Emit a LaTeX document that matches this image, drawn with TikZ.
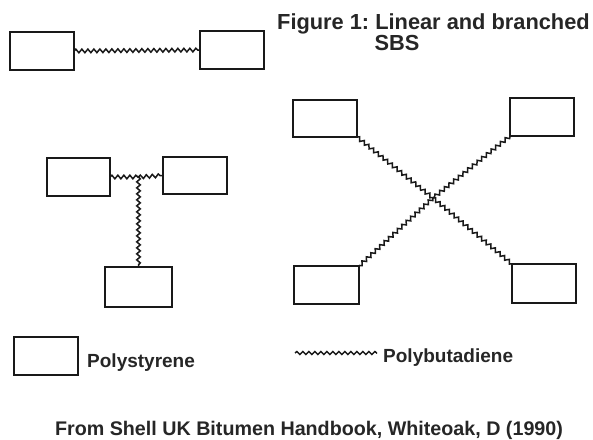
\documentclass[tikz,border=0pt]{standalone}
\usepackage{fontspec}
\setmainfont{Liberation Sans}
\usetikzlibrary{decorations.pathmorphing}
\frenchspacing
\begin{document}
\begin{tikzpicture}[x=1pt,y=-1pt,
  pbox/.style={draw=black!90, line width=1.8pt, minimum width=64pt, minimum height=38pt, inner sep=0pt, outer sep=0pt},
  chain/.style={draw=black!90, line width=1.5pt, decorate, decoration={snake, segment length=6pt, amplitude=1.8pt, pre length=0pt, post length=0pt}},
  lbl/.style={inner sep=0pt, text=black!85, font=\bfseries\fontsize{19}{22}\selectfont},
  src/.style={inner sep=0pt, text=black!85, font=\bfseries\fontsize{19.7}{22}\selectfont},
  ttl/.style={inner sep=0pt, text=black!85, font=\bfseries\fontsize{21.8}{26}\selectfont}]
\useasboundingbox (0,0) rectangle (593,439);
\fill[white] (0,0) rectangle (593,439);
% title
\node[ttl, anchor=base west] (title) at (277,29) {Figure 1: Linear and branched};
\node[ttl, anchor=base] (sbs) at (397,50) {SBS};
% linear
\node[pbox] (L1) at (42,51) {};
\node[pbox] (L2) at (232,50) {};
\draw[chain] (L1.east) -- (L2.west);
% T-shape
\node[pbox, minimum width=63pt] (T1) at (78.5,177) {};
\node[pbox, minimum height=37pt] (T2) at (195,175.5) {};
\node[pbox, minimum width=67pt, minimum height=40pt] (T3) at (138.5,287) {};
\coordinate (tj) at (138.5,177);
\draw[chain] (T1.east) -- (tj);
\draw[chain] (tj) -- (T2.west);
\draw[chain] (tj) -- (T3.north);
% X-shape
\node[pbox, minimum height=37pt] (X1) at (325,118.5) {};
\node[pbox] (X2) at (542,117) {};
\node[pbox, minimum width=65pt] (X3) at (326.5,285) {};
\node[pbox, minimum height=39pt] (X4) at (544,283.5) {};
\coordinate (xc) at (433,198);
\draw[chain] (X1.south east) -- (xc);
\draw[chain] (xc) -- (X4.north west);
\draw[chain] (X2.south west) -- (xc);
\draw[chain] (xc) -- (X3.north east);
% legend
\node[pbox] (LB) at (46,356) {};
\node[lbl, anchor=base west] (ps) at (87,367) {Polystyrene};
\coordinate (w1) at (295,353);
\coordinate (w2) at (377,353);
\node[lbl, anchor=base west] (pb) at (383,362) {Polybutadiene};
\draw[chain, decoration={snake, segment length=6pt, amplitude=1.5pt}] (w1) -- (w2);
% source
\node[src, anchor=base] (srcline) at (309,435) {From Shell UK Bitumen Handbook, Whiteoak, D (1990)};
\end{tikzpicture}
\end{document}
